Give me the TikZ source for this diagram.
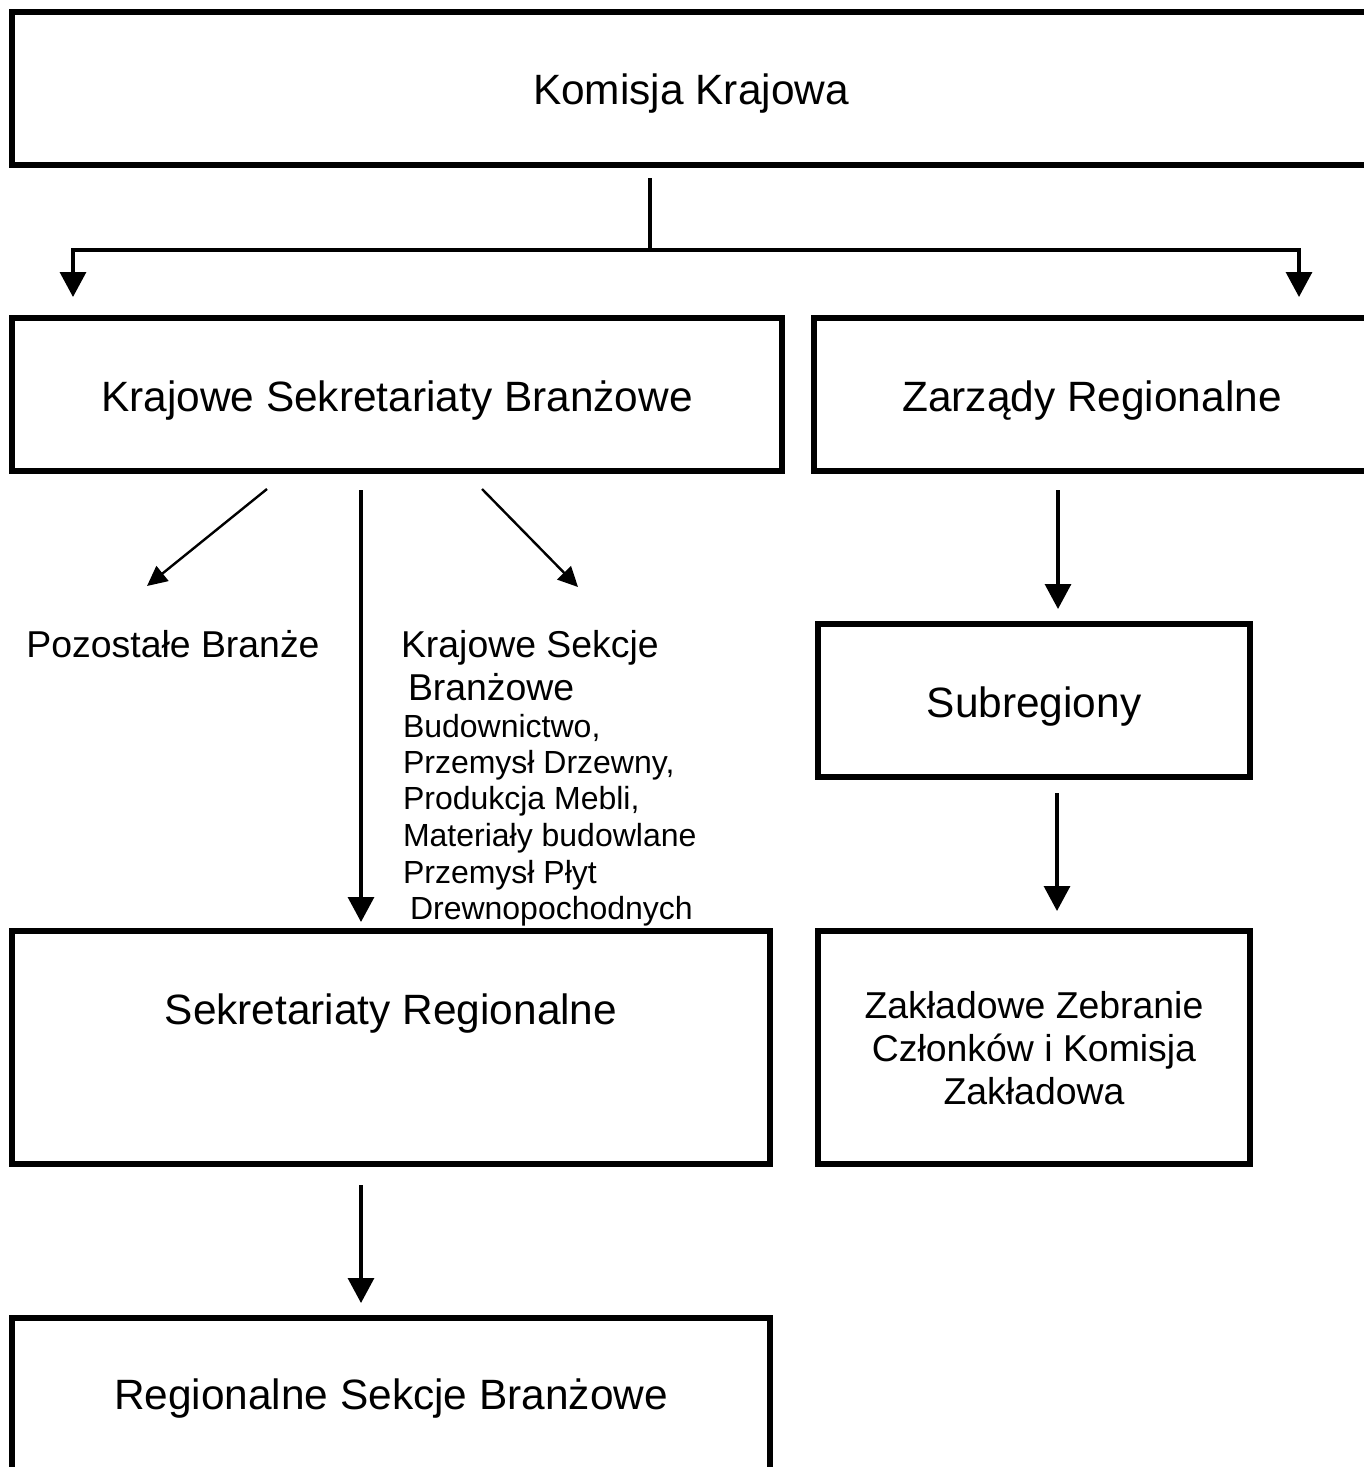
\documentclass[tikz,border=0pt]{standalone}
\usepackage{fontspec}
\setmainfont{Liberation Sans}
\usetikzlibrary{arrows.meta,calc}
\begin{document}
\begin{tikzpicture}[x=0.5pt,y=-0.5pt,
  box/.style={draw,line width=3pt,inner sep=0pt,outer sep=0pt,rectangle},
  lbl/.style={inner sep=0pt,outer sep=0pt,anchor=base},
  lblw/.style={inner sep=0pt,outer sep=0pt,anchor=base west},
  big/.style={font=\fontsize{21.2pt}{25pt}\selectfont},
  med/.style={font=\fontsize{18.7pt}{22pt}\selectfont},
  small/.style={font=\fontsize{16pt}{19pt}\selectfont},
  plainline/.style={line width=1.6pt},
  conn/.style={line width=1.6pt,-{Triangle[length=12.5pt,width=13pt]}},
  diag/.style={line width=1.2pt,-{Triangle[length=10pt,width=9.5pt]}}]
\useasboundingbox (0,0) rectangle (1364,1467);
\clip (0,0) rectangle (1364,1467);
\fill[white] (0,0) rectangle (1364,1467);

% boxes
\node[box,minimum width=684pt,minimum height=76.5pt] (kk) at (696,88.5) {};
\node[box,minimum width=385pt,minimum height=76.5pt] (ksb) at (397,394.5) {};
\node[box,minimum width=283pt,minimum height=76.5pt] (zr) at (1097,394.5) {};
\node[box,minimum width=216pt,minimum height=76.5pt] (sub) at (1034,700.5) {};
\node[box,minimum width=216pt,minimum height=116.5pt] (zak) at (1034,1047.5) {};
\node[box,minimum width=379pt,minimum height=116.5pt] (sr) at (391,1047.5) {};
\node[box,minimum width=379pt,minimum height=91pt] (rsb) at (391,1409) {};

% texts
\node[lbl,big] (tkk) at (691,104) {Komisja Krajowa};
\node[lbl,big] (tksb) at (397,411) {Krajowe Sekretariaty Branżowe};
\node[lbl,big] (tzr) at (1092,411) {Zarządy Regionalne};
\node[lbl,med] (tpoz) at (173,657) {Pozostałe Branże};
\node[lblw,med] (s1) at (401,657) {Krajowe Sekcje};
\node[lblw,med] (s2) at (408,700) {Branżowe};
\node[lblw,small] (s3) at (403,737) {Budownictwo,};
\node[lblw,small] (s4) at (403,773) {Przemysł Drzewny,};
\node[lblw,small] (s5) at (403,809) {Produkcja Mebli,};
\node[lblw,small] (s6) at (403,846) {Materiały budowlane};
\node[lblw,small] (s7) at (403,883) {Przemysł Płyt};
\node[lblw,small] (s8) at (410,919) {Drewnopochodnych};
\node[lbl,big] (tsub) at (1034,717) {Subregiony};
\node[lbl,med] (z1) at (1034,1018) {Zakładowe Zebranie};
\node[lbl,med] (z2) at (1034,1061) {Członków i Komisja};
\node[lbl,med] (z3) at (1034,1104) {Zakładowa};
\node[lbl,big] (tsr) at (391,1024) {Sekretariaty Regionalne};
\node[lbl,big] (trsb) at (391,1409) {Regionalne Sekcje Branżowe};

% connectors
\coordinate (split) at (650,250);
\coordinate (tipL) at (73,297);
\coordinate (tipR) at (1299,297);
\coordinate (pozTip) at (147,586);
\coordinate (sekTip) at (578,587);
\draw[plainline] ($(kk.south)+(-46,13)$) -- (split);
\draw[conn] (split) -| (tipL);
\draw[conn] (split) -| (tipR);
\draw[diag] ($(ksb.south)+(-130,18)$) -- (pozTip);
\draw[diag] ($(ksb.south)+(85,18)$) -- (sekTip);
\draw[conn] ($(ksb.south)+(-36,19)$) -- ($(sr.north)+(-30,-9)$);
\draw[conn] ($(zr.south)+(-39,19)$) -- ($(sub.north)+(24,-15)$);
\draw[conn] ($(sub.south)+(23,16)$) -- ($(zak.north)+(23,-20)$);
\draw[conn] ($(sr.south)+(-30,21)$) -- ($(rsb.north)+(-30,-15)$);
\end{tikzpicture}
\end{document}
